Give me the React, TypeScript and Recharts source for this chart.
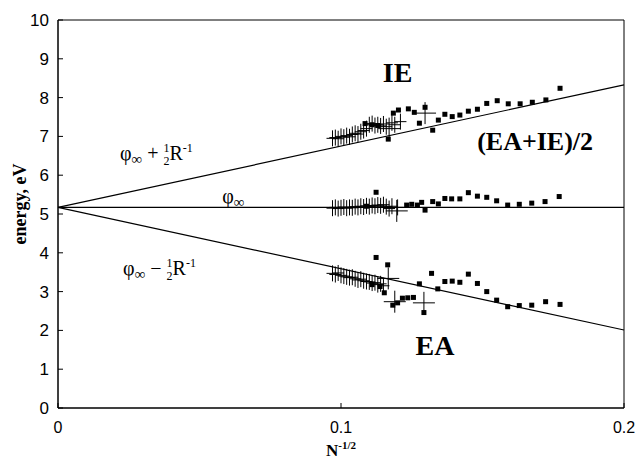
import { ComposedChart, Scatter, XAxis, YAxis, ReferenceDot, ReferenceArea } from "recharts";

// model lines: phi_inf and phi_inf +/- 1/2 R^-1
const lineMid = [
  { x: 0, y: 5.17 },
  { x: 0.2, y: 5.17 },
];
const lineIE = [
  { x: 0, y: 5.17 },
  { x: 0.2, y: 8.33 },
];
const lineEA = [
  { x: 0, y: 5.17 },
  { x: 0.2, y: 2.01 },
];

// measured values (squares)
const squaresIE = [
  { x: 0.1085, y: 7.33 }, { x: 0.111, y: 7.3 }, { x: 0.113, y: 7.28 },
  { x: 0.1167, y: 6.93 }, { x: 0.1185, y: 7.6 }, { x: 0.1203, y: 7.68 },
  { x: 0.1238, y: 7.71 }, { x: 0.1259, y: 7.62 }, { x: 0.1277, y: 7.34 },
  { x: 0.1297, y: 7.75 }, { x: 0.1324, y: 7.16 }, { x: 0.1344, y: 7.42 },
  { x: 0.1367, y: 7.57 }, { x: 0.1393, y: 7.51 }, { x: 0.142, y: 7.55 },
  { x: 0.145, y: 7.65 }, { x: 0.1482, y: 7.7 }, { x: 0.1515, y: 7.85 },
  { x: 0.1552, y: 7.92 }, { x: 0.1591, y: 7.84 }, { x: 0.1633, y: 7.84 },
  { x: 0.1676, y: 7.88 }, { x: 0.1724, y: 7.94 }, { x: 0.1774, y: 8.24 },
];
const squaresMid = [
  { x: 0.109, y: 5.2 }, { x: 0.1124, y: 5.56 }, { x: 0.1232, y: 5.23 },
  { x: 0.125, y: 5.25 }, { x: 0.127, y: 5.23 }, { x: 0.1285, y: 5.3 },
  { x: 0.1297, y: 5.1 }, { x: 0.1324, y: 5.32 }, { x: 0.1344, y: 5.26 },
  { x: 0.1367, y: 5.4 }, { x: 0.1391, y: 5.39 }, { x: 0.142, y: 5.39 },
  { x: 0.145, y: 5.55 }, { x: 0.1482, y: 5.46 }, { x: 0.1515, y: 5.43 },
  { x: 0.155, y: 5.34 }, { x: 0.1589, y: 5.23 }, { x: 0.163, y: 5.25 },
  { x: 0.1674, y: 5.28 }, { x: 0.1721, y: 5.32 }, { x: 0.1771, y: 5.45 },
];
const squaresEA = [
  { x: 0.111, y: 3.18 }, { x: 0.1124, y: 3.88 }, { x: 0.1138, y: 3.13 },
  { x: 0.1153, y: 2.97 }, { x: 0.1165, y: 3.69 }, { x: 0.1183, y: 2.65 },
  { x: 0.12, y: 2.71 }, { x: 0.1217, y: 2.83 }, { x: 0.1236, y: 2.84 },
  { x: 0.1256, y: 2.85 }, { x: 0.1277, y: 3.2 }, { x: 0.1293, y: 2.46 },
  { x: 0.132, y: 3.47 }, { x: 0.1342, y: 3.07 }, { x: 0.1367, y: 3.26 },
  { x: 0.1393, y: 3.27 }, { x: 0.142, y: 3.24 }, { x: 0.145, y: 3.45 },
  { x: 0.1482, y: 3.21 }, { x: 0.1515, y: 3.0 }, { x: 0.155, y: 2.78 },
  { x: 0.1589, y: 2.61 }, { x: 0.163, y: 2.64 }, { x: 0.1674, y: 2.65 },
  { x: 0.1723, y: 2.74 }, { x: 0.1774, y: 2.67 },
];

// calculated values (crosses)
const crossesIE = [
  { x: 0.097, y: 6.95 }, { x: 0.098, y: 6.97 }, { x: 0.099, y: 6.94 },
  { x: 0.1, y: 7.0 }, { x: 0.101, y: 6.98 }, { x: 0.102, y: 7.02 },
  { x: 0.103, y: 6.99 }, { x: 0.104, y: 7.05 }, { x: 0.105, y: 7.08 },
  { x: 0.106, y: 7.06 }, { x: 0.107, y: 7.12 }, { x: 0.108, y: 7.15 },
  { x: 0.109, y: 7.2 }, { x: 0.11, y: 7.3 }, { x: 0.111, y: 7.33 },
  { x: 0.112, y: 7.28 }, { x: 0.113, y: 7.3 }, { x: 0.114, y: 7.27 },
  { x: 0.115, y: 7.32 }, { x: 0.116, y: 7.25 }, { x: 0.118, y: 7.35 },
  { x: 0.119, y: 7.3 }, { x: 0.121, y: 7.38 },
];
const crossesMid = [
  { x: 0.097, y: 5.15 }, { x: 0.098, y: 5.17 }, { x: 0.099, y: 5.14 },
  { x: 0.1, y: 5.16 }, { x: 0.101, y: 5.18 }, { x: 0.102, y: 5.15 },
  { x: 0.103, y: 5.17 }, { x: 0.104, y: 5.16 }, { x: 0.105, y: 5.19 },
  { x: 0.106, y: 5.17 }, { x: 0.107, y: 5.2 }, { x: 0.108, y: 5.18 },
  { x: 0.109, y: 5.21 }, { x: 0.11, y: 5.19 }, { x: 0.111, y: 5.22 },
  { x: 0.112, y: 5.2 }, { x: 0.113, y: 5.23 }, { x: 0.114, y: 5.21 },
  { x: 0.115, y: 5.24 }, { x: 0.116, y: 5.19 }, { x: 0.117, y: 5.14 },
  { x: 0.118, y: 5.2 }, { x: 0.12, y: 5.17 },
];
const crossesEA = [
  { x: 0.097, y: 3.47 }, { x: 0.098, y: 3.44 }, { x: 0.099, y: 3.48 },
  { x: 0.1, y: 3.42 }, { x: 0.101, y: 3.4 }, { x: 0.102, y: 3.38 },
  { x: 0.103, y: 3.36 }, { x: 0.104, y: 3.37 }, { x: 0.105, y: 3.33 },
  { x: 0.106, y: 3.3 }, { x: 0.107, y: 3.32 }, { x: 0.108, y: 3.28 },
  { x: 0.109, y: 3.26 }, { x: 0.11, y: 3.25 }, { x: 0.111, y: 3.22 },
  { x: 0.112, y: 3.23 }, { x: 0.113, y: 3.18 }, { x: 0.114, y: 3.2 },
  { x: 0.115, y: 3.15 },
];
const bigCrosses = [
  { x: 0.117, y: 7.2 }, { x: 0.1297, y: 7.6 },
  { x: 0.1197, y: 5.08 },
  { x: 0.1167, y: 3.34 }, { x: 0.119, y: 2.74 }, { x: 0.1293, y: 2.71 },
];

const xTicks = [0, 0.1, 0.2];
const yTicks = [0, 1, 2, 3, 4, 5, 6, 7, 8, 9, 10];

const serif = "'Liberation Serif', 'Times New Roman', serif";
const sans = "'Liberation Sans', Arial, sans-serif";

const Square = (p: any) => (
  <rect x={p.cx - 2.5} y={p.cy - 2.5} width={5} height={5} fill="#000" />
);

const plus = (h: number, v: number) => (p: any) => (
  <g stroke="#000" strokeWidth={1}>
    <line x1={p.cx - h} x2={p.cx + h} y1={p.cy} y2={p.cy} />
    <line x1={p.cx} x2={p.cx} y1={p.cy - v} y2={p.cy + v} />
  </g>
);

const NoDot = () => <g />;

const phiLabel = (sign: string) => (p: any) => (
  <text x={p.cx} y={p.cy} fontFamily={serif} fontSize={20} fill="#000">
    φ<tspan fontSize={15} dy={4}>∞</tspan>
    <tspan dy={-4}>{` ${sign} `}</tspan>
    <tspan fontSize={12} dy={-8}>1</tspan>
    <tspan fontSize={12} dx={-6} dy={13}>2</tspan>
    <tspan dy={-5}>R</tspan>
    <tspan fontSize={12} dy={-8}>-1</tspan>
  </text>
);

const phiOnly = (p: any) => (
  <text x={p.cx} y={p.cy} fontFamily={serif} fontSize={20} fill="#000">
    φ<tspan fontSize={15} dy={4}>∞</tspan>
  </text>
);

const bigLabel = (txt: string, size: number) => (p: any) => (
  <text x={p.cx} y={p.cy} textAnchor="middle" fontFamily={serif} fontWeight="bold" fontSize={size} fill="#000">
    {txt}
  </text>
);

export default function App() {
  return (
    <div style={{ width: 639, height: 462, background: "#fff" }}>
      <style>{"body{margin:0}"}</style>
      <ComposedChart width={639} height={462} margin={{ top: 20, right: 15, left: 0, bottom: 0 }}>
        <XAxis
          type="number"
          dataKey="x"
          domain={[0, 0.2]}
          ticks={xTicks}
          height={54}
          tickSize={-5}
          tickMargin={19}
          axisLine={{ stroke: "#000" }}
          tickLine={{ stroke: "#000" }}
          tick={{ fill: "#000", fontFamily: sans, fontSize: 16 }}
          label={{
            content: (props: any) => {
              const vb = props.viewBox;
              return (
                <text x={vb.x + vb.width / 2} y={vb.y + 48} textAnchor="middle" fontFamily={serif} fontWeight="bold" fontSize={17} fill="#000">
                  N<tspan fontSize={11} dy={-7}>-1/2</tspan>
                </text>
              );
            },
          }}
        />
        <YAxis
          type="number"
          dataKey="y"
          domain={[0, 10]}
          ticks={yTicks}
          width={58}
          tickSize={-5}
          tickMargin={14}
          axisLine={{ stroke: "#000" }}
          tickLine={{ stroke: "#000" }}
          tick={{ fill: "#000", fontFamily: sans, fontSize: 17 }}
          label={{
            content: (props: any) => {
              const vb = props.viewBox;
              const cy = vb.y + vb.height / 2 - 10;
              return (
                <text transform={`translate(26, ${cy}) rotate(-90)`} textAnchor="middle" fontFamily={serif} fontWeight="bold" fontSize={18} fill="#000">
                  energy, eV
                </text>
              );
            },
          }}
        />
        <ReferenceArea x1={0} x2={0.2} y1={0} y2={10} fill="none" stroke="#000" strokeWidth={1} />

        <Scatter data={lineMid} line={{ stroke: "#000", strokeWidth: 1.2 }} shape={NoDot} isAnimationActive={false} />
        <Scatter data={lineIE} line={{ stroke: "#000", strokeWidth: 1.2 }} shape={NoDot} isAnimationActive={false} />
        <Scatter data={lineEA} line={{ stroke: "#000", strokeWidth: 1.2 }} shape={NoDot} isAnimationActive={false} />

        <Scatter data={crossesIE} shape={plus(6, 8)} isAnimationActive={false} />
        <Scatter data={crossesMid} shape={plus(6, 8)} isAnimationActive={false} />
        <Scatter data={crossesEA} shape={plus(6, 8)} isAnimationActive={false} />
        <Scatter data={bigCrosses} shape={plus(11, 11)} isAnimationActive={false} />

        <Scatter data={squaresIE} shape={Square} isAnimationActive={false} />
        <Scatter data={squaresMid} shape={Square} isAnimationActive={false} />
        <Scatter data={squaresEA} shape={Square} isAnimationActive={false} />

        <ReferenceDot x={0.0219} y={6.39} r={0} shape={phiLabel("+")} />
        <ReferenceDot x={0.058} y={5.28} r={0} shape={phiOnly} />
        <ReferenceDot x={0.023} y={3.43} r={0} shape={phiLabel("−")} />
        <ReferenceDot x={0.12} y={8.4} r={0} shape={bigLabel("IE", 28)} />
        <ReferenceDot x={0.1686} y={6.65} r={0} shape={bigLabel("(EA+IE)/2", 26)} />
        <ReferenceDot x={0.1332} y={1.37} r={0} shape={bigLabel("EA", 28)} />
      </ComposedChart>
    </div>
  );
}
